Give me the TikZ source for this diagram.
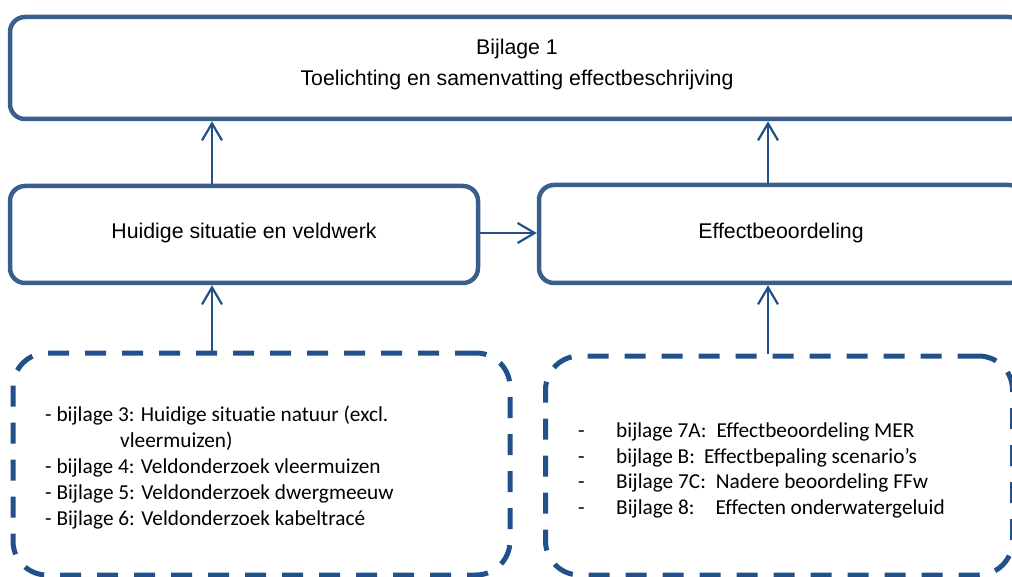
\documentclass[tikz,border=0pt]{standalone}
\usepackage{fontspec}
\setmainfont{Liberation Sans}
\newfontfamily\calib[Ligatures=NoCommon]{Carlito}
\usetikzlibrary{arrows.meta}
\definecolor{boxblue}{HTML}{3A5F8D}
\definecolor{darkblue}{HTML}{22508A}
\tikzset{
  solidbox/.style={draw=boxblue, line width=4.5pt, rounded corners=15pt, rectangle, inner sep=0pt},
  dashbox/.style={draw=darkblue, line width=5pt, rounded corners=34pt, rectangle, inner sep=0pt,
    dash pattern=on 21pt off 16pt},
  arr/.style={draw=darkblue, line width=2.2pt, -{Straight Barb[length=17pt,width=20pt,line width=2.2pt]}},
  maintext/.style={font=\fontsize{21.3}{25}\selectfont, inner sep=0pt},
  listtext/.style={font=\calib\fontsize{21.3}{25}\selectfont, anchor=base west, inner sep=0pt},
}
\begin{document}
\begin{tikzpicture}[x=1pt,y=-1pt]
\useasboundingbox (0,0) rectangle (1012,577);
% boxes
\node[solidbox, minimum width=1014pt, minimum height=102pt] (top) at (517,68) {};
\node[solidbox, minimum width=468pt, minimum height=97pt] (hl) at (244,234.5) {};
\node[solidbox, minimum width=485pt, minimum height=98pt] (hr) at (781.5,234) {};
\node[dashbox, minimum width=497pt, minimum height=222pt] (dl) at (261.5,464) {};
\node[dashbox, minimum width=467pt, minimum height=219pt] (dr) at (779,465.5) {};
% texts
\node[maintext, anchor=base] (t1) at (517,55) {Bijlage 1};
\node[maintext, anchor=base] (t2) at (517,86) {Toelichting en samenvatting effectbeschrijving};
\node[maintext] (thl) at (244,233) {Huidige situatie en veldwerk};
\node[maintext] (thr) at (781,233) {Effectbeoordeling};
% left list
\node[listtext] (l1) at (45,421) {- bijlage 3: Huidige situatie natuur (excl.};
\node[listtext] (l2) at (120,447) {vleermuizen)};
\node[listtext] (l3) at (45,473) {- bijlage 4: Veldonderzoek vleermuizen};
\node[listtext] (l4) at (45,499) {- Bijlage 5: Veldonderzoek dwergmeeuw};
\node[listtext] (l5) at (45,525) {- Bijlage 6: Veldonderzoek kabeltracé};
% right list
\node[listtext] (d1) at (578,437) {-};
\node[listtext] (d2) at (578,463) {-};
\node[listtext] (d3) at (578,488.5) {-};
\node[listtext] (d4) at (578,514) {-};
\node[listtext] (r1) at (616,437) {bijlage 7A:\hspace{10pt}Effectbeoordeling MER};
\node[listtext] (r2) at (616,463) {bijlage B:\hspace{9pt}Effectbepaling scenario’s};
\node[listtext] (r3) at (616,488.5) {Bijlage 7C:\hspace{10pt}Nadere beoordeling FFw};
\node[listtext] (r4) at (616,514) {Bijlage 8:\hspace{21pt}Effecten onderwatergeluid};
% arrow x positions
\coordinate (xa) at (212,0);
\coordinate (xb) at (768,0);
% connectors
\draw[arr] (hl.north -| xa) -- (top.south -| xa);
\draw[arr] (hr.north -| xb) -- (top.south -| xb);
\draw[arr] (dl.north -| xa) -- (hl.south -| xa);
\draw[arr] (dr.north -| xb) -- (hr.south -| xb);
\draw[arr] (hl.east |- 0,233) -- (hr.west |- 0,233);
\end{tikzpicture}
\end{document}
